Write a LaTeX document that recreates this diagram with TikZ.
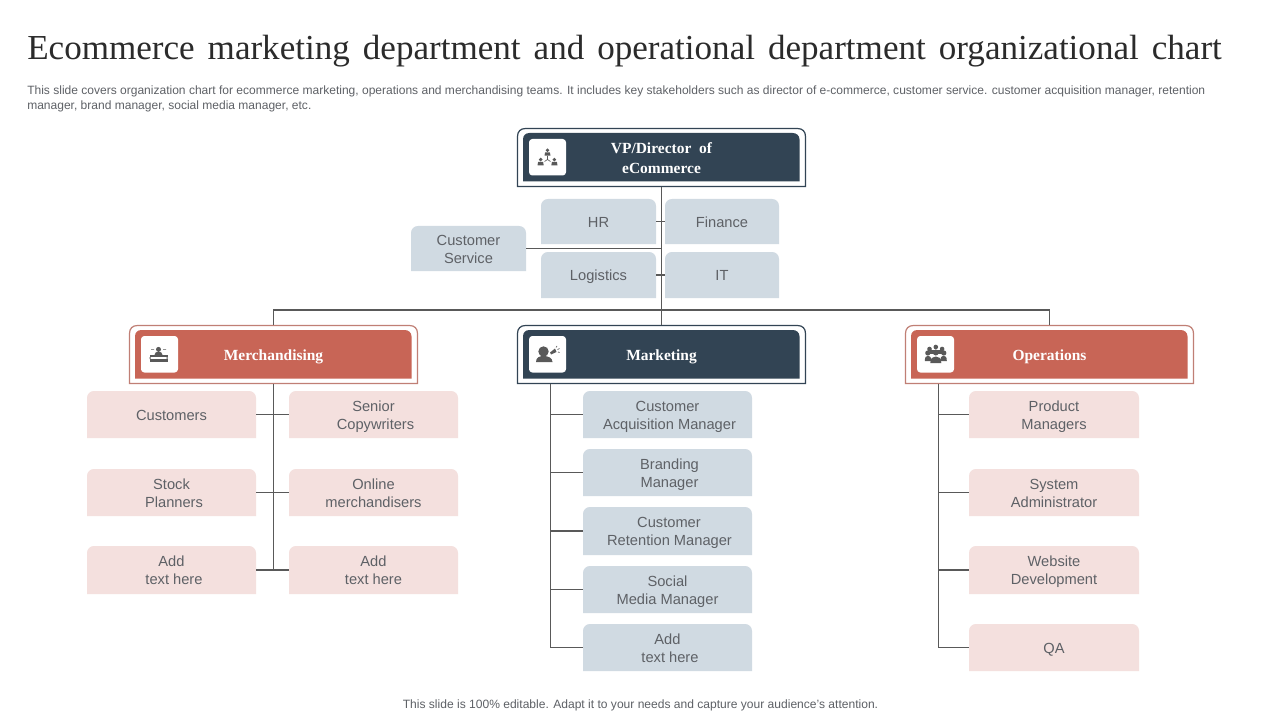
\documentclass[tikz,border=0pt]{standalone}
\usepackage{fontspec}
\setmainfont{Liberation Sans}
\newfontfamily\serifx{Liberation Serif}
\definecolor{navy}{HTML}{324454}
\definecolor{brick}{HTML}{C86556}
\definecolor{blueb}{HTML}{D0DAE2}
\definecolor{pinkb}{HTML}{F4E0DE}
\definecolor{linec}{HTML}{595959}
\definecolor{txt}{HTML}{5E6166}
\definecolor{titlec}{HTML}{2B2B2B}
\definecolor{frameb}{HTML}{C07F75}
\tikzset{
  x=0.75pt,y=-0.75pt,
  conn/.style={draw=linec,line width=0.8pt},
  lab/.style={inner sep=0pt,text=txt,align=center,font=\fontsize{11pt}{13.5pt}\selectfont},
  head/.style={inner sep=0pt,text=white,align=center,font=\serifx\bfseries\fontsize{11.6pt}{15pt}\selectfont},
  iconc/.style={fill=linec,draw=none},
}
\newcommand\lstrut{\rule[-2.5pt]{0pt}{13.5pt}}
% name, x0,y0,x1,y1, colour, text
\newcommand\tbox[7]{%
  \fill[#6] (#2,#5) -- (#2,#3+7) .. controls (#2,#3+3) and (#2+3,#3) .. (#2+7,#3) -- (#4-7,#3) .. controls (#4-3,#3) and (#4,#3+3) .. (#4,#3+7) -- (#4,#5) -- cycle;
  \node[lab,minimum width={(#4-#2)*0.75pt},minimum height={(#5-#3)*0.75pt}] (#1) at ({(#2+#4)/2},{(#3+#5)/2}) {\lstrut#7\lstrut};
}
% name, x0 (outer left), y0 (outer top), frame colour, fill colour, text offset, text
\newcommand\headbox[7]{%
  \draw[#4,line width=0.9pt,fill=white] (#2,#3+58) -- (#2,#3+8) .. controls (#2,#3+3) and (#2+3,#3) .. (#2+8,#3) -- (#2+280,#3) .. controls (#2+285,#3) and (#2+288,#3+3) .. (#2+288,#3+8) -- (#2+288,#3+58) -- cycle;
  \fill[#5] (#2+5.5,#3+53) -- (#2+5.5,#3+11) .. controls (#2+5.5,#3+7) and (#2+8,#3+4.5) .. (#2+12,#3+4.5) -- (#2+275,#3+4.5) .. controls (#2+279,#3+4.5) and (#2+282,#3+7) .. (#2+282,#3+11) -- (#2+282,#3+53) -- cycle;
  \fill[white,rounded corners=2.5pt] (#2+11.5,#3+10.5) rectangle (#2+48.5,#3+47);
  \node[inner sep=0pt,minimum width=216pt,minimum height=43.5pt] (#1) at (#2+144,#3+29) {};
  \node[head] (#1txt) at (#2+144,#3+29.5+#6) {#7};
}
\begin{document}
\begin{tikzpicture}
\useasboundingbox (0,0) rectangle (1280,720);
\fill[white] (0,0) rectangle (1280,720);

\node[inner sep=0pt,anchor=base west,text=titlec,font=\serifx\fontsize{26.3pt}{30pt}\selectfont] (title) at (27,60) {\spaceskip=9.75pt Ecommerce marketing department and operational department organizational chart};
\node[inner sep=0pt,anchor=north west,text=txt,align=left,font=\fontsize{9.02pt}{10.9pt}\selectfont] (sub) at (27,86) {This slide covers organization chart for  ecommerce marketing, operations and merchandising teams. It includes key stakeholders such as director of e-commerce,  customer service. customer acquisition manager, retention\\manager, brand manager, social media manager, etc.};
\node[inner sep=0pt,text=txt,font=\fontsize{9.04pt}{11pt}\selectfont] (foot) at (640.5,705) {This slide is 100\% editable. Adapt it to your needs and capture your audience’s attention.};

% headers
\headbox{vp}{517.5}{128.5}{navy}{navy}{0}{VP/Director\hspace{3pt} of\\eCommerce}
\headbox{merch}{129.5}{325.5}{frameb}{brick}{1.5}{Merchandising}
\headbox{mk}{517.5}{325.5}{navy}{navy}{1.5}{Marketing}
\headbox{ops}{905.5}{325.5}{frameb}{brick}{1.5}{Operations}

% top boxes
\tbox{hr}{541}{199}{656}{244}{blueb}{HR}
\tbox{fin}{665}{199}{779}{244}{blueb}{Finance}
\tbox{cs}{411}{226}{526}{271}{blueb}{Customer\\Service}
\tbox{lg}{541}{252}{656}{298}{blueb}{Logistics}
\tbox{it}{665}{252}{779}{298}{blueb}{IT}

% merchandising
\tbox{ma}{87}{391}{256}{438}{pinkb}{Customers}
\tbox{mb}{289}{391}{458}{438}{pinkb}{Senior\\\hspace*{3pt}Copywriters}
\tbox{mc}{87}{469}{256}{516}{pinkb}{Stock\\\hspace*{3.75pt}Planners}
\tbox{md}{289}{469}{458}{516}{pinkb}{Online\\merchandisers}
\tbox{me}{87}{546}{256}{594}{pinkb}{Add\\\hspace*{3.75pt}text here}
\tbox{mf}{289}{546}{458}{594}{pinkb}{Add\\text here}

% marketing
\tbox{ka}{583}{391}{752}{438}{blueb}{Customer\\\hspace*{3pt}Acquisition Manager}
\tbox{kb}{583}{449}{752}{496}{blueb}{\hspace*{3pt}Branding\\\hspace*{3pt}Manager}
\tbox{kc}{583}{507}{752}{555}{blueb}{\hspace*{2.25pt}Customer\\\hspace*{3pt}Retention Manager}
\tbox{kd}{583}{566}{752}{613}{blueb}{Social\\Media Manager}
\tbox{ke}{583}{624}{752}{671}{blueb}{Add\\\hspace*{3.75pt}text here}

% operations
\tbox{oa}{969}{391}{1139}{438}{pinkb}{Product\\Managers}
\tbox{ob}{969}{469}{1139}{516}{pinkb}{System\\Administrator}
\tbox{oc}{969}{546}{1139}{594}{pinkb}{Website\\Development}
\tbox{od}{969}{624}{1139}{671}{pinkb}{QA}

% connectors
\coordinate (bus) at (661.5,310);
\coordinate (mkB) at ([xshift=24.75pt]mk.south west);
\coordinate (opB) at ([xshift=24.75pt]ops.south west);
\draw[conn] (vp.south) -- (mk.north);
\draw[conn] (merch.north) |- (bus) -| (ops.north);
\draw[conn] (hr.east) -- (fin.west);
\draw[conn] (cs.east) -- (cs.east -| vp.south);
\draw[conn] (lg.east) -- (it.west);
\draw[conn] (ma.east) -- (mb.west);
\draw[conn] (mc.east) -- (md.west);
\draw[conn] (me.east) -- (mf.west);
\draw[conn] (merch.south) -- (merch.south |- me.east);
\draw[conn] (mkB) |- (ke.west);
\foreach \n in {ka,kb,kc,kd} \draw[conn] (\n.west) -- (\n.west -| mkB);
\draw[conn] (opB) |- (od.west);
\foreach \n in {oa,ob,oc} \draw[conn] (\n.west) -- (\n.west -| opB);

% icon: network of three people
\begin{scope}[shift={(547.5,157)}]
  \fill[iconc] (0,-6.8) circle (1.9);
  \fill[iconc] (-3,-1.3) -- (3,-1.3) -- (2.4,-4.6) -- (-2.4,-4.6) -- cycle;
  \fill[iconc] (-6.8,2.6) circle (1.9);
  \fill[iconc] (-10,8.4) -- (-3.8,8.4) -- (-4.4,4.9) -- (-9.4,4.9) -- cycle;
  \fill[iconc] (6.8,2.6) circle (1.9);
  \fill[iconc] (10,8.4) -- (3.8,8.4) -- (4.4,4.9) -- (9.4,4.9) -- cycle;
  \draw[linec,line width=0.5pt] (0,-1) -- (0,2.5) -- (-3,4.5) (0,2.5) -- (3,4.5);
\end{scope}
% icon: person behind a desk
\begin{scope}[shift={(158.5,354)}]
  \fill[iconc] (0,-4.6) circle (2.5);
  \fill[iconc] (-4,1) .. controls (-4,-1.8) and (-2,-2.2) .. (0,-2.2) .. controls (2,-2.2) and (4,-1.8) .. (4,1) -- cycle;
  \fill[iconc] (-9,1) rectangle (9,3);
  \fill[iconc] (-9,5) rectangle (9,7.8);
  \fill[iconc] (-9,3) rectangle (-8,5) (8,3) rectangle (9,5);
  \fill[iconc] (-7.5,-5) rectangle (-4.5,-4.3) (4.5,-5) rectangle (7.5,-4.3);
\end{scope}
% icon: person with a megaphone
\begin{scope}[shift={(547.5,354)}]
  \fill[iconc] (-4,-2.5) circle (5.2);
  \fill[iconc] (-11.5,8) .. controls (-11.5,3.5) and (-8,2) .. (-4,2) .. controls (0,2) and (5,3.5) .. (5,8) -- cycle;
  \fill[iconc] (2.5,-1.5) -- (7.5,-5.5) -- (9,-2) -- (3.5,0.5) -- cycle;
  \draw[linec,line width=0.5pt] (8.5,-6.5) -- (9.5,-8) (10,-4.5) -- (12,-5.5) (10.5,-2) -- (12,-1.5);
\end{scope}
% icon: group of people with a cog
\begin{scope}[shift={(935.8,354)}]
  \fill[iconc] (0,-7) circle (2.3) (-6.3,-5) circle (2.3) (6.3,-5) circle (2.3);
  \fill[iconc] (-8,-1) circle (2.6) (8,-1) circle (2.6) (0,-1.5) circle (3);
  \fill[iconc] (-11,7) .. controls (-11,2.5) and (-9.5,1.8) .. (-7.5,1.8) .. controls (-6,1.8) and (-4.5,3) .. (-4.5,7) -- cycle;
  \fill[iconc] (11,7) .. controls (11,2.5) and (9.5,1.8) .. (7.5,1.8) .. controls (6,1.8) and (4.5,3) .. (4.5,7) -- cycle;
  \fill[iconc] (-5.5,9) .. controls (-5.5,4) and (-3,2.5) .. (0,2.5) .. controls (3,2.5) and (5.5,4) .. (5.5,9) -- cycle;
  \fill[iconc] (-6,-4) rectangle (6,0);
\end{scope}
\end{tikzpicture}
\end{document}
